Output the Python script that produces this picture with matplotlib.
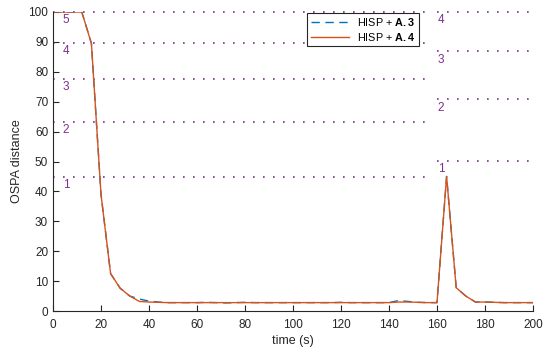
import matplotlib
matplotlib.use("Agg")
import matplotlib.pyplot as plt
import numpy as np

plt.rcParams['font.family'] = ['Liberation Sans', 'DejaVu Sans']
plt.rcParams['mathtext.fontset'] = 'custom'
plt.rcParams['mathtext.bf'] = 'Liberation Sans:bold'
plt.rcParams['mathtext.rm'] = 'Liberation Sans'

time = list(range(0, 201, 4))
a3 = [100, 100, 100, 100, 89.5, 39, 12.5, 7.6, 5.0, 4.0, 3.3, 3.0, 2.8, 2.8, 2.8, 2.8,
      2.9, 2.8, 2.7, 2.8, 2.9, 2.8, 2.8, 2.8, 2.8, 2.8, 2.8, 2.8, 2.8, 2.8, 2.9, 2.8,
      2.8, 2.8, 2.8, 2.8, 3.5, 3.2, 2.9, 2.8, 2.8, 45, 7.8, 5.0, 3.0, 3.0, 2.9, 2.8,
      2.8, 2.8, 2.8]
a4 = [100, 100, 100, 100, 89.5, 39, 12.5, 7.6, 5.0, 3.2, 3.0, 2.9, 2.8, 2.8, 2.8, 2.8,
      2.8, 2.8, 2.8, 2.8, 2.8, 2.8, 2.8, 2.8, 2.8, 2.8, 2.8, 2.8, 2.8, 2.8, 2.8, 2.8,
      2.8, 2.8, 2.8, 2.8, 3.0, 3.0, 2.9, 2.8, 2.8, 45, 7.8, 5.0, 3.0, 3.0, 2.9, 2.8,
      2.8, 2.8, 2.8]

left_levels = [44.8, 63.3, 77.6, 89.6, 100]
left_labels = ['1', '2', '3', '4', '5']
right_levels = [50.2, 70.8, 86.8, 100]
right_labels = ['1', '2', '3', '4']

purple = (0.494, 0.184, 0.556)
blue = (0.0, 0.447, 0.741)
orange = (0.85, 0.325, 0.098)

fig = plt.figure(figsize=(5.44, 3.56), dpi=100)
ax = fig.add_axes([53/544, 45/356, 480/544, 299/356])

for lv, lb in zip(left_levels, left_labels):
    ax.plot([0, 158], [lv, lv], linestyle=(0, (1, 5)), color=purple, lw=1.2, clip_on=False)
    ax.text(4.0, lv - 0.8, lb, color=purple, fontsize=8.5, va='top', ha='left')
for lv, lb in zip(right_levels, right_labels):
    ax.plot([160, 200], [lv, lv], linestyle=(0, (1, 5)), color=purple, lw=1.2, clip_on=False)
    ax.text(160.3, lv - 0.8, lb, color=purple, fontsize=8.5, va='top', ha='left')

ax.plot(time, a3, linestyle=(0, (6, 4)), color=blue, lw=1.0, label=r'HISP + $\mathbf{A{.}3}$')
ax.plot(time, a4, '-', color=orange, lw=1.0, label=r'HISP + $\mathbf{A{.}4}$')

ax.set_xlim(0, 200)
ax.set_ylim(0, 100)
ax.set_xticks(range(0, 201, 20))
ax.set_yticks(range(0, 101, 10))
ax.spines['top'].set_visible(False)
ax.spines['right'].set_visible(False)
for s in ['left', 'bottom']:
    ax.spines[s].set_color('#262626')
    ax.spines[s].set_linewidth(0.8)
ax.tick_params(direction='in', length=4, width=0.8, colors='#262626', labelsize=8.5)
ax.tick_params(axis='x', pad=5.5)
ax.set_xlabel('time (s)', fontsize=9, color='#262626', labelpad=3)
ax.set_ylabel('OSPA distance', fontsize=9, color='#262626', labelpad=4)

leg = ax.legend(loc='upper left', bbox_to_anchor=(0.53, 0.998), fontsize=7.8,
                frameon=True, fancybox=False, edgecolor='#262626', framealpha=1,
                borderpad=0.3, handlelength=3.5, labelspacing=0.3, borderaxespad=0)
leg.get_frame().set_linewidth(0.8)

fig.savefig('out.png', dpi=100)
